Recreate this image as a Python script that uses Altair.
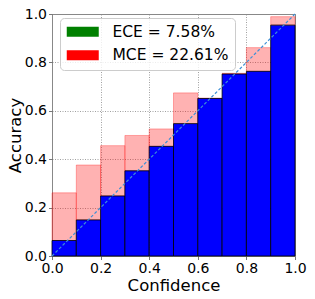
import altair as alt
import pandas as pd

bin_lo = [0.0, 0.1, 0.2, 0.3, 0.4, 0.5, 0.6, 0.7, 0.8, 0.9]
bin_hi = [0.1, 0.2, 0.3, 0.4, 0.5, 0.6, 0.7, 0.8, 0.9, 1.0]
accuracy = [0.064, 0.149, 0.248, 0.352, 0.453, 0.547, 0.651, 0.752, 0.763, 0.954]
gap_top = [0.261, 0.376, 0.456, 0.498, 0.525, 0.674, 0.652, 0.755, 0.861, 0.989]
diag = [0.0, 1.0]
legend_labels = ["ECE = 7.58%", "MCE = 22.61%"]
legend_colors = ["#008000", "#ff0000"]
ticks = [0.0, 0.2, 0.4, 0.6, 0.8, 1.0]

bars = pd.DataFrame({"lo": bin_lo, "hi": bin_hi, "acc": accuracy, "top": gap_top})
line_df = pd.DataFrame({"x": diag, "y": diag})
leg_df = pd.DataFrame({"label": legend_labels})

FONT = "DejaVu Sans"
xscale = alt.Scale(domain=[0, 1], nice=False)
yscale = alt.Scale(domain=[0, 1], nice=False)

xaxis = alt.Axis(values=ticks, format=".1f", title="Confidence", labelFlush=False,
                 labelOverlap=False, titlePadding=2)
yaxis = alt.Axis(values=ticks, format=".1f", title="Accuracy", labelOverlap=False,
                 titlePadding=1)

gap = alt.Chart(bars).mark_rect(fill="red", fillOpacity=0.3, stroke="red",
                                strokeOpacity=0.3, strokeWidth=1).encode(
    x=alt.X("lo:Q", scale=xscale, axis=xaxis),
    x2="hi:Q",
    y=alt.Y("acc:Q", scale=yscale, axis=yaxis),
    y2="top:Q",
)

blue = alt.Chart(bars).mark_rect(fill="#0000ff", stroke="black", strokeWidth=0.8).encode(
    x=alt.X("lo:Q", scale=xscale),
    x2="hi:Q",
    y=alt.Y("acc:Q", scale=yscale),
    y2=alt.datum(0),
)

diag_line = alt.Chart(line_df).mark_line(color="#3d8fd6", strokeDash=[3, 2],
                                          strokeWidth=1.2).encode(
    x=alt.X("x:Q", scale=xscale),
    y=alt.Y("y:Q", scale=yscale),
)

legend_layer = alt.Chart(leg_df).mark_rect().encode(
    x=alt.value(0), x2=alt.value(0), y=alt.value(0), y2=alt.value(0),
    color=alt.Color("label:N",
                    scale=alt.Scale(domain=legend_labels, range=legend_colors),
                    legend=alt.Legend(
                        title=None, orient="none", legendX=8, legendY=4,
                        fillColor="rgba(255,255,255,0.8)", strokeColor="#cccccc",
                        cornerRadius=4, padding=6,
                        symbolType="M-3.2,-1H3.2V1H-3.2Z", symbolSize=100,
                        symbolOffset=9, symbolStrokeWidth=0,
                        labelOffset=22, labelFontSize=15.5, labelFont=FONT,
                        labelColor="black", rowPadding=6.5)),
)

chart = alt.layer(gap, blue, diag_line, legend_layer).properties(
    width=243, height=242,
    autosize=alt.AutoSizeParams(type="none"),
    padding={"left": 44, "top": 6, "right": 12, "bottom": 35},
).configure_view(stroke="#888888", strokeWidth=1).configure_axis(
    labelFont=FONT, titleFont=FONT, labelFontSize=14, titleFontSize=16.5,
    titleFontWeight="normal", labelColor="black", titleColor="black",
    domain=False, tickColor="#555555", tickSize=3.5, tickWidth=0.8,
    labelPadding=2, gridColor="#888888", gridDash=[1, 1.5], gridWidth=0.8,
    gridOpacity=1,
)

chart.save("out.html", embed_options={"renderer": "svg", "actions": False})
